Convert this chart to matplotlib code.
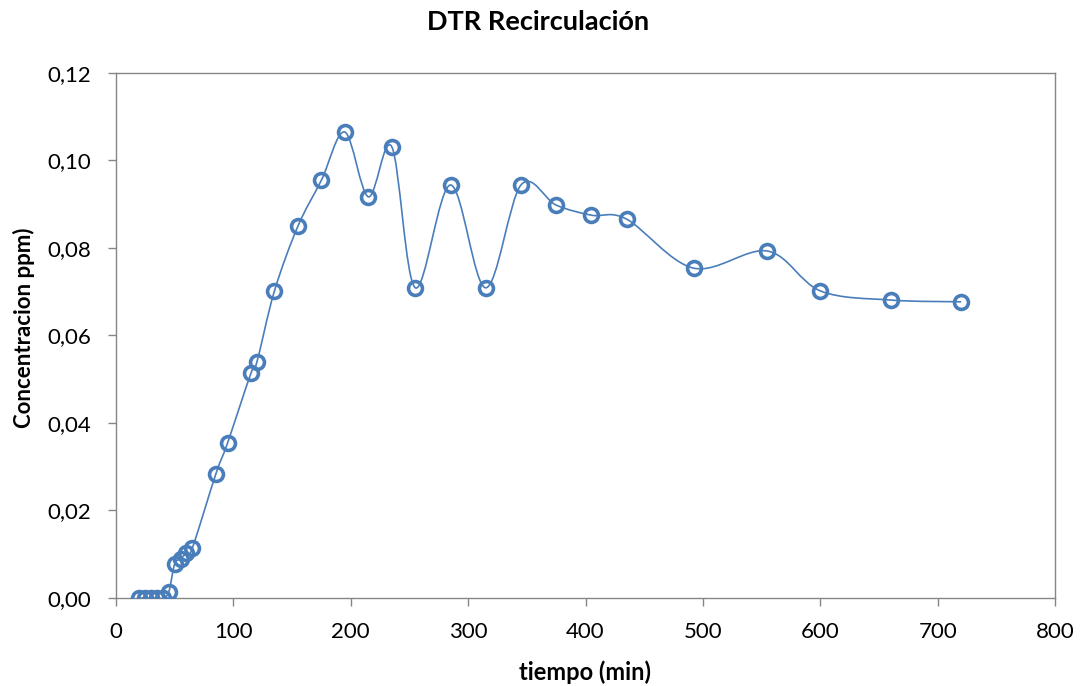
import matplotlib
import matplotlib.pyplot as plt
import numpy as np
from matplotlib.path import Path
from matplotlib.patches import PathPatch
from matplotlib.ticker import FuncFormatter, MultipleLocator

matplotlib.use('Agg')

# tiempo (min) y concentración (ppm)
tiempo = [20, 25, 30, 35, 40, 45, 50, 55, 60, 65, 85, 95, 115, 120, 135, 155,
          175, 195, 215, 235, 255, 285, 315, 345, 375, 405, 435, 492, 555,
          600, 660, 720]
concentracion = [0.0, 0.0, 0.0, 0.0, 0.0, 0.0014, 0.0078, 0.0089, 0.0103,
                 0.0114, 0.0283, 0.0354, 0.0514, 0.0539, 0.0702, 0.0850,
                 0.0955, 0.1065, 0.0917, 0.1031, 0.0709, 0.0944, 0.0709,
                 0.0944, 0.0898, 0.0875, 0.0866, 0.0754, 0.0793, 0.0702,
                 0.0681, 0.0677]

color = '#4a7ebb'
plt.rcParams['font.family'] = ['Lato', 'DejaVu Sans']


def smooth_path(x, y):
    """Curva suavizada tipo Catmull-Rom con segmentos Bezier cubicos."""
    pts = np.column_stack([x, y]).astype(float)
    n = len(pts)
    verts = [pts[0]]
    codes = [Path.MOVETO]
    for i in range(n - 1):
        p0 = pts[i - 1] if i > 0 else pts[i]
        p1, p2 = pts[i], pts[i + 1]
        p3 = pts[i + 2] if i + 2 < n else pts[i + 1]
        c1 = p1 + (p2 - p0) / 6.0
        c2 = p2 - (p3 - p1) / 6.0
        verts += [c1, c2, p2]
        codes += [Path.CURVE4] * 3
    return Path(verts, codes)


fig = plt.figure(figsize=(10.8, 6.86), dpi=100)
ax = fig.add_axes([0.1074, 0.1283, 0.8695, 0.7653])

ax.add_patch(PathPatch(smooth_path(tiempo, concentracion), facecolor='none',
                       edgecolor=color, lw=1.2, zorder=2))
ax.plot(tiempo, concentracion, ls='none', marker='o', ms=10,
        mfc='none', mec=color, mew=2.6, zorder=3)

ax.set_xlim(0, 800)
ax.set_ylim(0, 0.12)
ax.xaxis.set_major_locator(MultipleLocator(100))
ax.yaxis.set_major_locator(MultipleLocator(0.02))
ax.yaxis.set_major_formatter(FuncFormatter(lambda v, _: f'{v:.2f}'.replace('.', ',')))

for s in ax.spines.values():
    s.set_color('#868686')
    s.set_linewidth(1.0)
ax.tick_params(direction='out', length=6, width=1, color='#868686',
               labelsize=16, labelcolor='black')
ax.tick_params(axis='x', pad=11)
ax.tick_params(axis='y', pad=12)

fig.text(538 / 1080, 1 - 22 / 686, 'DTR Recirculación', fontsize=19.5,
         fontweight='bold', ha='center', va='center')
fig.text(585 / 1080, 1 - 672 / 686, 'tiempo (min)', fontsize=17,
         fontweight='bold', ha='center', va='center')
fig.text(24 / 1080, 1 - 328 / 686, 'Concentracion ppm)', fontsize=16,
         fontweight='bold', ha='center', va='center', rotation=90)

fig.savefig('out.png', dpi=100)
plt.close(fig)
